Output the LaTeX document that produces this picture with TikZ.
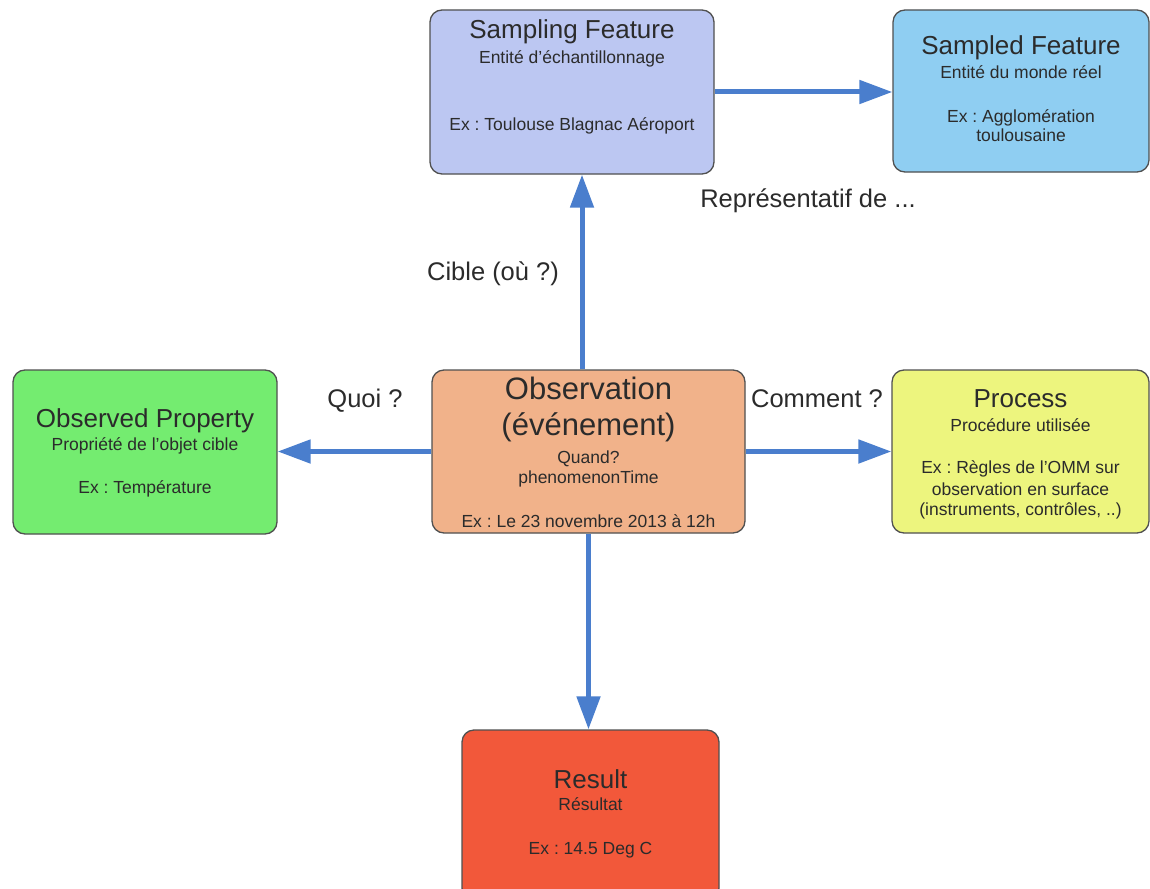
\documentclass[tikz,border=0pt]{standalone}
\usepackage{fontspec}
\setmainfont{Liberation Sans}
\usetikzlibrary{arrows.meta}
\definecolor{cSampling}{HTML}{BCC7F2}
\definecolor{cSampled}{HTML}{8FCEF2}
\definecolor{cObs}{HTML}{F1B28A}
\definecolor{cProp}{HTML}{74EC70}
\definecolor{cProc}{HTML}{EDF57E}
\definecolor{cRes}{HTML}{F2583A}
\definecolor{boxline}{HTML}{505050}
\definecolor{txt}{HTML}{2B2B2B}
\definecolor{arrowblue}{HTML}{4A7ECD}
\frenchspacing
\begin{document}
\begin{tikzpicture}[x=1pt,y=-1pt,
  box/.style={draw=boxline, line width=1.3pt, rounded corners=12pt, inner sep=0pt},
  ttl/.style={anchor=base, inner sep=0pt, text=txt, font=\frenchspacing\fontsize{26}{30}\selectfont},
  bigttl/.style={anchor=base, inner sep=0pt, text=txt, font=\frenchspacing\fontsize{31}{36}\selectfont},
  sub/.style={anchor=base, inner sep=0pt, text=txt, font=\frenchspacing\fontsize{17.5}{20}\selectfont},
  lbl/.style={anchor=base, inner sep=0pt, text=txt, font=\frenchspacing\fontsize{25.5}{30}\selectfont},
  arr/.style={draw=arrowblue, line width=5pt, -{Triangle[length=33pt,width=23pt]}}]
\useasboundingbox (0,0) rectangle (1150,888);
\clip (0,0) rectangle (1150,888);
\fill[white] (0,0) rectangle (1150,888);

% boxes
\node[box, fill=cSampling, minimum width=284pt, minimum height=164pt] (sampling) at (572,92) {};
\node[box, fill=cSampled, minimum width=256pt, minimum height=162pt] (sampled) at (1021,91) {};
\node[box, fill=cObs, minimum width=313pt, minimum height=163pt] (obs) at (588.5,451.5) {};
\node[box, fill=cProp, minimum width=264pt, minimum height=164pt] (prop) at (145,452) {};
\node[box, fill=cProc, minimum width=257pt, minimum height=163pt] (proc) at (1020.5,451.5) {};
\node[box, fill=cRes, minimum width=257pt, minimum height=170pt] (result) at (590.5,815) {};

% connectors
\draw[arr] (sampling.east) -- (sampling.east -| sampled.west);
\draw[arr] ([xshift=-6.5pt]obs.north) -- ([xshift=-6.5pt]obs.north |- sampling.south);
\draw[arr] (obs.west) -- (obs.west -| prop.east);
\draw[arr] (obs.east) -- (obs.east -| proc.west);
\draw[arr] (obs.south) -- (obs.south |- result.north);

% texts: Sampling Feature
\node[ttl] (sfT) at (572,39) {Sampling Feature};
\node[sub] (sfS) at (572,64) {Entité d’échantillonnage};
\node[sub] (sfE) at (572,130) {Ex : Toulouse Blagnac Aéroport};
% Sampled Feature
\node[ttl] (sdT) at (1021,55) {Sampled Feature};
\node[sub] (sdS) at (1021,79) {Entité du monde réel};
\node[sub] (sdE1) at (1021,122) {Ex : Agglomération};
\node[sub] (sdE2) at (1021,142) {toulousaine};
% Observation
\node[bigttl] (obT1) at (588.5,399) {Observation};
\node[bigttl] (obT2) at (588.5,435) {(événement)};
\node[sub] (obS1) at (588.5,463) {Quand?};
\node[sub] (obS2) at (588.5,483) {phenomenonTime};
\node[sub] (obE) at (588.5,527) {Ex : Le 23 novembre 2013 à 12h};
% Observed Property
\node[ttl] (opT) at (145,427) {Observed Property};
\node[sub] (opS) at (145,450) {Propriété de l’objet cible};
\node[sub] (opE) at (145,493) {Ex : Température};
% Process
\node[ttl] (prT) at (1020.5,407) {Process};
\node[sub] (prS) at (1020.5,431) {Procédure utilisée};
\node[sub] (prE1) at (1020.5,473) {Ex : Règles de l’OMM sur};
\node[sub] (prE2) at (1020.5,495) {observation en surface};
\node[sub] (prE3) at (1020.5,515) {(instruments, contrôles, ..)};
% Result
\node[ttl] (reT) at (590.5,788) {Result};
\node[sub] (reS) at (590.5,810) {Résultat};
\node[sub] (reE) at (590.5,854) {Ex : 14.5 Deg C};

% connector labels
\node[lbl] (lCible) at (493,280) {Cible (où ?)};
\node[lbl] (lRep) at (808,207) {Représentatif de ...};
\node[lbl] (lQuoi) at (365,407) {Quoi ?};
\node[lbl] (lComment) at (817,407) {Comment ?};
\end{tikzpicture}
\end{document}
